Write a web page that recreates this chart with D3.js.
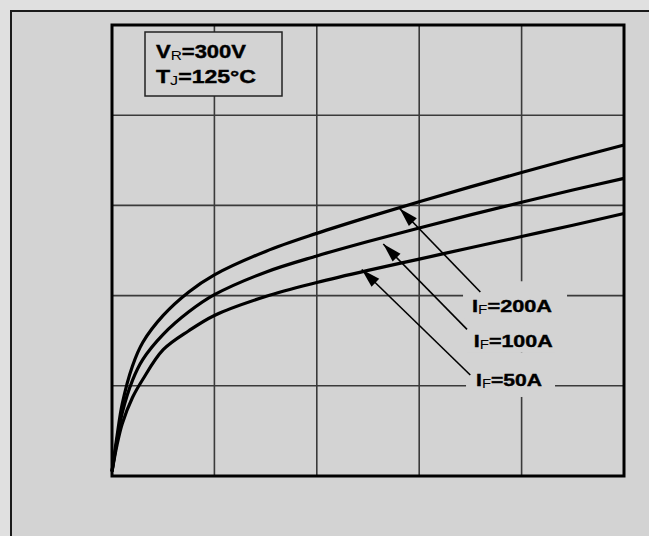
<!DOCTYPE html>
<html>
<head>
<meta charset="utf-8">
<script src="https://cdn.jsdelivr.net/npm/d3@7"></script>
<style>
  html, body { margin: 0; padding: 0; background: #e0e0e0; }
  svg { display: block; }
</style>
</head>
<body>
<svg id="chart" width="649" height="536"></svg>
<script>
// ---- data (grid units: 5 divisions on each axis) ----
const xValues = [0, 0.05, 0.1, 0.2, 0.3, 0.5, 0.75, 1, 1.5, 2, 2.5, 3, 3.5, 4, 4.5, 5];
const if200 = [0.05, 0.45, 0.80, 1.22, 1.48, 1.78, 2.04, 2.23, 2.49, 2.69, 2.87, 3.04, 3.205, 3.365, 3.52, 3.67];
const if100 = [0.05, 0.40, 0.70, 1.06, 1.29, 1.57, 1.82, 2.01, 2.26, 2.44, 2.60, 2.75, 2.895, 3.035, 3.17, 3.30];
const if50  = [0.05, 0.35, 0.58, 0.87, 1.07, 1.40, 1.61, 1.78, 1.99, 2.145, 2.28, 2.405, 2.53, 2.655, 2.78, 2.91];
const xTicks = [0, 1, 2, 3, 4, 5];
const yTicks = [0, 1, 2, 3, 4, 5];
const seriesNames = ["200A", "100A", "50A"];
// annotation arrows: [tailU, tailV, tipU, tipV]; label anchor [u, v]
const arrowTails = [[3.597, 2.04], [3.467, 1.626], [3.499, 1.12]];
const arrowTips  = [[2.809, 2.966], [2.649, 2.572], [2.439, 2.289]];
const labelPos   = [[3.516, 1.815], [3.532, 1.433], [3.555, 0.998]];
const labelLens  = [80, 79, 66];
const condLines  = [["V", "R", "=300V"], ["T", "J", "=125°C"]];

const svg = d3.select("#chart");
const L = 112, R = 624, T = 25, B = 476;
const x = d3.scaleLinear().domain([0, 5]).range([L, R]);
const y = d3.scaleLinear().domain([0, 5]).range([B, T]);

// outer frame
svg.append("rect").attr("x", 11).attr("y", 11).attr("width", 700).attr("height", 600)
  .attr("fill", "#d3d3d3").attr("stroke", "#1a1a1a").attr("stroke-width", 2);

// grid
const g = svg.append("g");
g.selectAll("line.vx").data(xTicks.slice(1, -1)).join("line")
  .attr("x1", d => x(d)).attr("x2", d => x(d)).attr("y1", T).attr("y2", B)
  .attr("stroke", "#3a3a3a").attr("stroke-width", 1.6);
g.selectAll("line.hy").data(yTicks.slice(1, -1)).join("line")
  .attr("y1", d => y(d)).attr("y2", d => y(d)).attr("x1", L).attr("x2", R)
  .attr("stroke", "#3a3a3a").attr("stroke-width", 1.6);

// label backgrounds (hide grid behind labels)
const bgRects = [[-9, -31, 15, 6], [-9, -29, 15, 6], [-10, -33, 13, 11]];
labelPos.forEach((p, i) => {
  const lx = x(p[0]), ly = y(p[1]);
  const b = bgRects[i];
  svg.append("rect").attr("x", lx + b[0]).attr("y", ly + b[1])
    .attr("width", labelLens[i] - b[0] + b[2]).attr("height", -b[1] + b[3])
    .attr("fill", "#d3d3d3");
});

// curves
const line = d3.line().x((d, i) => x(xValues[i])).y(d => y(d)).curve(d3.curveCatmullRom.alpha(0.5));
[if200, if100, if50].forEach(s => {
  svg.append("path").attr("d", line(s)).attr("fill", "none")
    .attr("stroke", "#000").attr("stroke-width", 3.2).attr("stroke-linejoin", "round");
});

// plot border
svg.append("rect").attr("x", L).attr("y", T).attr("width", R - L).attr("height", B - T)
  .attr("fill", "none").attr("stroke", "#000").attr("stroke-width", 3);

// arrows
arrowTails.forEach((t, i) => {
  const x1 = x(t[0]), y1 = y(t[1]), x2 = x(arrowTips[i][0]), y2 = y(arrowTips[i][1]);
  svg.append("line").attr("x1", x1).attr("y1", y1).attr("x2", x2).attr("y2", y2)
    .attr("stroke", "#000").attr("stroke-width", 1.6);
  const ang = Math.atan2(y2 - y1, x2 - x1);
  const len = 19, w = 5.5;
  const bx = x2 - len * Math.cos(ang), by = y2 - len * Math.sin(ang);
  const px = -Math.sin(ang) * w, py = Math.cos(ang) * w;
  svg.append("path").attr("d", `M${x2},${y2}L${bx + px},${by + py}L${bx - px},${by - py}Z`).attr("fill", "#000");
});

// labels
labelPos.forEach((p, i) => {
  const t = svg.append("text").attr("x", x(p[0])).attr("y", y(p[1]))
    .attr("font-family", "Liberation Sans, Arial, sans-serif").attr("font-weight", "bold")
    .attr("font-size", 17).attr("fill", "#000").attr("stroke", "#000").attr("stroke-width", 0.4)
    .attr("textLength", labelLens[i]).attr("lengthAdjust", "spacingAndGlyphs");
  t.append("tspan").text("I");
  t.append("tspan").attr("font-size", 12).attr("font-weight", "normal").attr("stroke-width", 0).attr("dy", 2).text("F");
  t.append("tspan").attr("dy", -2).text("=" + seriesNames[i]);
});

// conditions box
svg.append("rect").attr("x", 145).attr("y", 32).attr("width", 137).attr("height", 64)
  .attr("fill", "#d3d3d3").attr("stroke", "#222").attr("stroke-width", 1.5);
const condLens = [90, 100];
condLines.forEach((c, i) => {
  const t = svg.append("text").attr("x", 156).attr("y", 58 + i * 25)
    .attr("font-family", "Liberation Sans, Arial, sans-serif").attr("font-weight", "bold")
    .attr("font-size", 18.5).attr("fill", "#000").attr("stroke", "#000").attr("stroke-width", 0.4)
    .attr("textLength", condLens[i]).attr("lengthAdjust", "spacingAndGlyphs");
  t.append("tspan").text(c[0]);
  t.append("tspan").attr("font-size", 13).attr("font-weight", "normal").attr("stroke-width", 0).attr("dy", 2).text(c[1]);
  t.append("tspan").attr("dy", -2).text(c[2]);
});
</script>
</body>
</html>
